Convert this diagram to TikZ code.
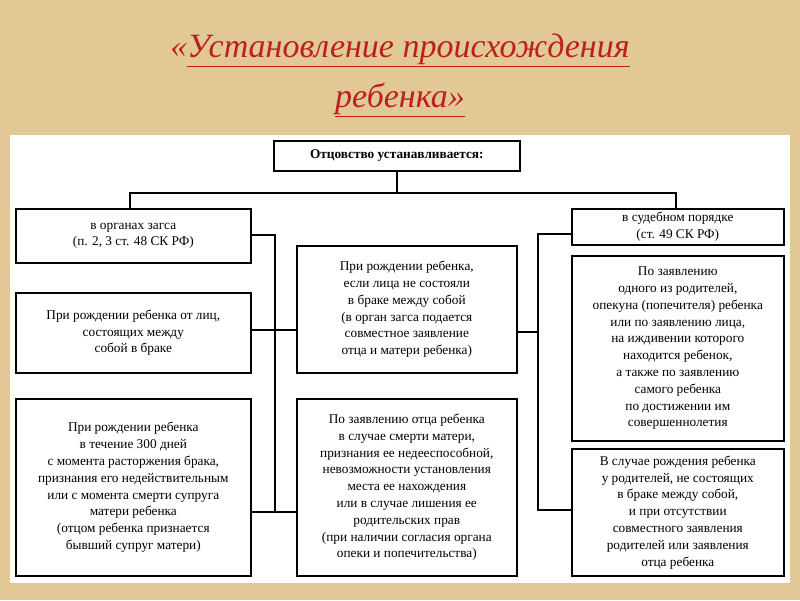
\documentclass[tikz,border=0pt]{standalone}
\usepackage{fontspec}
\setmainfont{Liberation Serif}
\definecolor{pergament}{RGB}{226,200,148}
\definecolor{titul}{RGB}{190,30,30}
\begin{document}
\begin{tikzpicture}[x=1pt,y=-1pt,
	blok/.style = {draw, line width=1.6pt, fill=white, anchor=north west, align=center, inner sep=1pt, font=\fontsize{13.3}{16.8}\selectfont},
	svyaz/.style = {line width=1.4pt}]
		\fill[pergament] (0,0) rectangle (800,600);
		\fill[white] (10,135) rectangle (790,583);
		\node[text=titul, font=\itshape\fontsize{34}{50}\selectfont, align=center] (zag) at (400,75) {«\underline{Установление происхождения}\\\underline{ребенка»}};
		
		\node[blok, minimum width=246, minimum height=30, font=\bfseries\fontsize{13.3}{16}\selectfont] (otc) at (273,140) {Отцовство устанавливается:};
		\node[blok, minimum width=235, minimum height=54] (zags) at (15,208) {в органах загса\\(п. 2, 3 ст. 48 СК РФ)};
		\node[blok, minimum width=212, minimum height=36] (sud) at (571,208) {в судебном порядке\\(ст. 49 СК РФ)};
		\node[blok, minimum width=235, minimum height=80] (brak) at (15,292) {При рождении ребенка от лиц,\\состоящих между\\собой в браке};
		\node[blok, minimum width=235, minimum height=177] (dney) at (15,398) {При рождении ребенка\\в течение 300 дней\\с момента расторжения брака,\\признания его недействительным\\или с момента смерти супруга\\матери ребенка\\(отцом ребенка признается\\бывший супруг матери)};
		\node[blok, minimum width=220, minimum height=127] (nebrak) at (296,245) {При рождении ребенка,\\если лица не состояли\\в браке между собой\\(в орган загса подается\\совместное заявление\\отца и матери ребенка)};
		\node[blok, minimum width=220, minimum height=177] (smert) at (296,398) {По заявлению отца ребенка\\в случае смерти матери,\\признания ее недееспособной,\\невозможности установления\\места ее нахождения\\или в случае лишения ее\\родительских прав\\(при наличии согласия органа\\опеки и попечительства)};
		\node[blok, minimum width=212, minimum height=185] (zayav) at (571,255) {По заявлению\\одного из родителей,\\опекуна (попечителя) ребенка\\или по заявлению лица,\\на иждивении которого\\находится ребенок,\\а также по заявлению\\самого ребенка\\по достижении им\\совершеннолетия};
		\node[blok, minimum width=212, minimum height=127] (sluch) at (571,448) {В случае рождения ребенка\\у родителей, не состоящих\\в браке между собой,\\и при отсутствии\\совместного заявления\\родителей или заявления\\отца ребенка};
		
		\coordinate (vl) at (130,193);
		\coordinate (vr) at (676,193);
		\coordinate (lt) at (275,235);
		\coordinate (lb) at (275,512);
		\coordinate (rt) at (538,234);
		\coordinate (rb) at (538,510);
		
		\draw[svyaz] (otc.south) -- (otc.south |- vl);
		\draw[svyaz] (zags.north -| vl) -- (vl) -- (vr) -- (sud.north -| vr);
		\draw[svyaz] (zags.east |- lt) -- (lt) -- (lb);
		\draw[svyaz] (brak.east |- 0,330) -- (nebrak.west |- 0,330);
		\draw[svyaz] (dney.east |- lb) -- (smert.west |- lb);
		\draw[svyaz] (sud.west |- rt) -- (rt) -- (rb) -- (sluch.west |- rb);
		\draw[svyaz] (nebrak.east |- 0,332) -- (rt |- 0,332);
	\end{tikzpicture}
\end{document}
